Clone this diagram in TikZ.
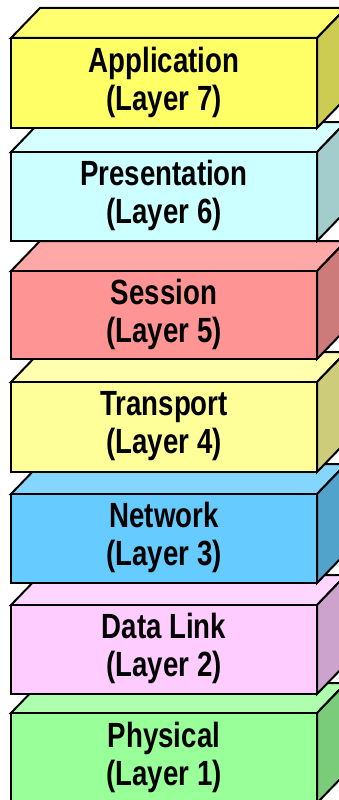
\documentclass[tikz,border=0pt]{standalone}
\usepackage{fontspec}
\newfontfamily\labfont{Liberation Sans Bold}[FakeStretch=0.79]
\definecolor{f7}{HTML}{FFFF66}\definecolor{t7}{HTML}{FFFF70}\definecolor{s7}{HTML}{CCCC52}
\definecolor{f6}{HTML}{CCFFFF}\definecolor{t6}{HTML}{D6FFFF}\definecolor{s6}{HTML}{A3CCCC}
\definecolor{f5}{HTML}{FF9494}\definecolor{t5}{HTML}{FFA8A8}\definecolor{s5}{HTML}{CC7A7A}
\definecolor{f4}{HTML}{FFFF99}\definecolor{t4}{HTML}{FFFFAD}\definecolor{s4}{HTML}{CCCC7A}
\definecolor{f3}{HTML}{66CCFF}\definecolor{t3}{HTML}{85D6FF}\definecolor{s3}{HTML}{52A3CC}
\definecolor{f2}{HTML}{FFCCFF}\definecolor{t2}{HTML}{FFD6FF}\definecolor{s2}{HTML}{CCA3CC}
\definecolor{f1}{HTML}{99FF99}\definecolor{t1}{HTML}{ADFFAD}\definecolor{s1}{HTML}{7ACC7A}
\tikzset{
  face/.style={draw=black, line width=2pt, line join=miter},
  lab/.style={font=\labfont\fontsize{35}{38}\selectfont, align=center, inner sep=0pt}
}
\newcommand{\layerbox}[7]{%
  \pgfmathsetmacro{\lbYt}{#2}%
  \pgfmathsetmacro{\lbYb}{#2+#3}%
  \pgfmathsetmacro{\lbYtb}{#2-30}%
  \pgfmathsetmacro{\lbYbb}{#2+#3-30}%
  \pgfmathsetmacro{\lbYm}{#2+#3/2-1}%
  \draw[face, fill=#5] (11,\lbYt) -- (40,\lbYtb) -- (346,\lbYtb) -- (317,\lbYt) -- cycle;
  \draw[face, fill=#6] (317,\lbYt) -- (346,\lbYtb) -- (346,\lbYbb) -- (317,\lbYb) -- cycle;
  \draw[face, fill=#4] (11,\lbYt) rectangle (317,\lbYb);
  \node[lab] (#1) at (164,\lbYm) {#7};
}
\begin{document}
\begin{tikzpicture}[x=1pt, y=-1pt]
\useasboundingbox (0,0) rectangle (339,800);
\layerbox{phys}{713}{90}{f1}{t1}{s1}{Physical\\(Layer 1)}
\layerbox{link}{605}{89}{f2}{t2}{s2}{Data Link\\(Layer 2)}
\layerbox{net}{494}{89}{f3}{t3}{s3}{Network\\(Layer 3)}
\layerbox{trans}{382}{90}{f4}{t4}{s4}{Transport\\(Layer 4)}
\layerbox{sess}{271}{88}{f5}{t5}{s5}{Session\\(Layer 5)}
\layerbox{pres}{152}{89}{f6}{t6}{s6}{Presentation\\(Layer 6)}
\layerbox{app}{38}{90}{f7}{t7}{s7}{Application\\(Layer 7)}
\end{tikzpicture}
\end{document}
